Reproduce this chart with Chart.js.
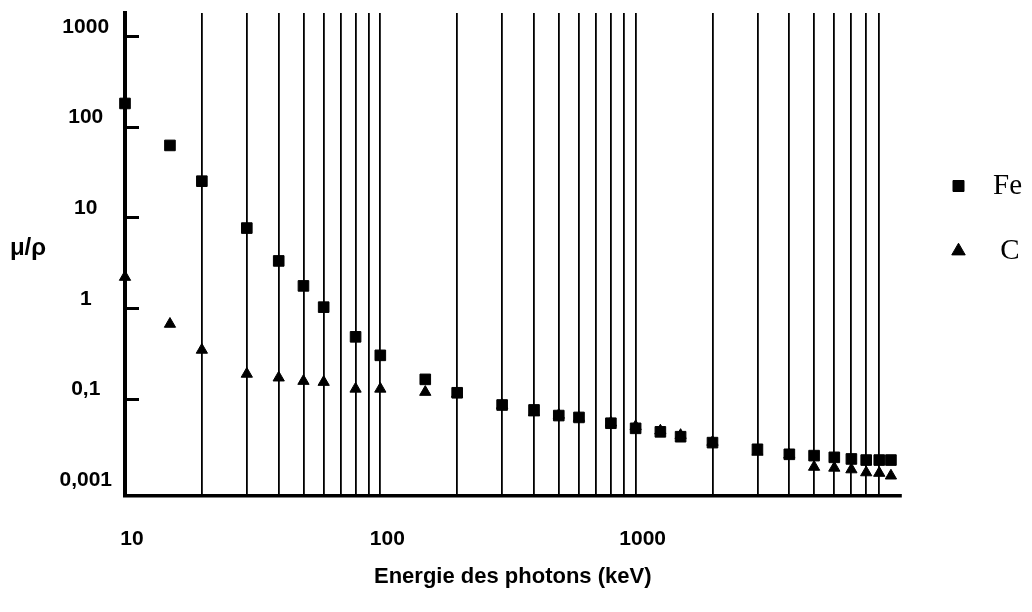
<!DOCTYPE html>
<html>
<head>
<meta charset="utf-8">
<title>μ/ρ - Fe et C</title>
<script src="https://cdn.jsdelivr.net/npm/chart.js@4.4.1/dist/chart.umd.min.js"></script>
<style>
  html, body { margin: 0; padding: 0; background: #fff; }
  #chart { display: block; }
</style>
</head>
<body>
<canvas id="chart" width="1032" height="612"></canvas>
<script>
// Photon energies (keV)
const energies = [10, 15, 20, 30, 40, 50, 60, 80, 100, 150, 200, 300, 400, 500, 600, 800,
                  1000, 1250, 1500, 2000, 3000, 4000, 5000, 6000, 7000, 8000, 9000, 10000];

// mass attenuation
const feValues = [180, 62, 25, 7.6, 3.3, 1.75, 1.02, 0.48, 0.30, 0.163, 0.116, 0.085, 0.075, 0.065,
                  0.062, 0.0535, 0.047, 0.043, 0.038, 0.0327, 0.0276, 0.0243, 0.0235, 0.0225,
                  0.0216, 0.021, 0.021, 0.021];
const cValues = [2.19, 0.665, 0.344, 0.187, 0.170, 0.156, 0.152, 0.128, 0.128, 0.118, 0.113, 0.0845,
                 0.07, 0.066, 0.0612, 0.0541, 0.0494, 0.0442, 0.0395, 0.0332, 0.0258, 0.024,
                 0.0176, 0.0172, 0.0165, 0.0153, 0.0151, 0.0141];

// axes
const xGridValues = [10, 20, 30, 40, 50, 60, 70, 80, 90, 100, 200, 300, 400, 500, 600, 700, 800, 900,
                     1000, 2000, 3000, 4000, 5000, 6000, 7000, 8000, 9000];
const xLabelValues = [10, 100, 1000];
const yTickValues = [0.01, 0.1, 1, 10, 100, 1000];
const yTickLabels = ['0,001', '0,1', '1', '10', '100', '1000'];
const yMarkValues = [0.1, 1, 10, 100, 1000];

const toPoints = (xs, ys) => xs.map((x, i) => ({ x: x, y: ys[i] }));

// short inward ticks on the y axis + horizontal "μ/ρ" label
const axisExtras = {
  id: 'axisExtras',
  afterDatasetsDraw(chart) {
    const ctx = chart.ctx;
    const y = chart.scales.y;
    const area = chart.chartArea;
    ctx.save();
    ctx.strokeStyle = '#000';
    ctx.lineWidth = 3;
    yMarkValues.forEach(v => {
      const py = Math.round(y.getPixelForValue(v)) + 0.5;
      ctx.beginPath();
      ctx.moveTo(area.left, py);
      ctx.lineTo(area.left + 14, py);
      ctx.stroke();
    });
    ctx.fillStyle = '#000';
    ctx.font = 'bold 24px "Liberation Sans", Arial, sans-serif';
    ctx.textAlign = 'center';
    ctx.textBaseline = 'middle';
    ctx.fillText('μ/ρ', 28, (area.top + area.bottom) / 2 - 6);
    ctx.restore();
  }
};

new Chart(document.getElementById('chart'), {
  type: 'scatter',
  data: {
    datasets: [{
      label: 'Fe',
      data: toPoints(energies, feValues),
      pointStyle: 'rect',
      pointRadius: 7.5,
      borderWidth: 1,
      backgroundColor: '#000',
      borderColor: '#000',
      clip: false
    }, {
      label: 'C',
      data: toPoints(energies, cValues),
      pointStyle: 'triangle',
      pointRadius: 6.5,
      borderWidth: 1,
      backgroundColor: '#000',
      borderColor: '#000',
      clip: false
    }]
  },
  options: {
    responsive: false,
    devicePixelRatio: 1,
    animation: false,
    layout: { padding: { top: 13, left: 0, right: 0, bottom: 0 } },
    scales: {
      x: {
        type: 'logarithmic',
        min: 10,
        max: 10900,
        afterBuildTicks: s => { s.ticks = xGridValues.map(v => ({ value: v })); },
        afterFit: s => { s.height = 116; s.paddingLeft = 0; s.paddingRight = 0; },
        grid: { color: '#000', lineWidth: 1.8, drawTicks: false },
        border: { display: true, color: '#000', width: 3.5 },
        ticks: {
          autoSkip: false,
          maxRotation: 0,
          padding: 31,
          labelOffset: 7,
          color: '#000',
          font: { family: '"Liberation Sans", Arial, sans-serif', size: 21, weight: 'bold' },
          callback: v => xLabelValues.includes(v) ? String(v) : ''
        },
        title: {
          display: true,
          text: 'Energie des photons (keV)',
          color: '#000',
          font: { family: '"Liberation Sans", Arial, sans-serif', size: 22, weight: 'bold' },
          padding: { top: 0, bottom: 22 }
        }
      },
      y: {
        type: 'logarithmic',
        min: 0.00843,
        max: 1790,
        afterBuildTicks: s => { s.ticks = yTickValues.map(v => ({ value: v })); },
        afterFit: s => { s.width = 125; s.paddingTop = 0; s.paddingBottom = 0; },
        grid: { display: false, drawTicks: false },
        border: { display: true, color: '#000', width: 4 },
        ticks: {
          crossAlign: 'center',
          padding: 13,
          labelOffset: -9,
          color: '#000',
          font: { family: '"Liberation Sans", Arial, sans-serif', size: 21, weight: 'bold' },
          callback: v => {
            const i = yTickValues.indexOf(v);
            return i >= 0 ? yTickLabels[i] : '';
          }
        }
      },
      gap: {
        type: 'linear',
        position: 'right',
        display: true,
        afterFit: s => { s.width = 16.5; },
        grid: { display: false },
        border: { display: false },
        ticks: { display: false }
      }
    },
    plugins: {
      tooltip: { enabled: false },
      legend: {
        position: 'right',
        align: 'start',
        title: { display: true, text: '', font: { size: 10 }, padding: { top: 110.5, bottom: 0 } },
        labels: {
          usePointStyle: true,
          boxWidth: 11,
          boxHeight: 11,
          padding: 36,
          color: '#000',
          font: { family: '"Liberation Serif", "Times New Roman", serif', size: 29 },
          generateLabels: chart => {
            const items = Chart.defaults.plugins.legend.labels.generateLabels(chart);
            items.forEach(it => { it.text = (it.text === 'C' ? '   ' : '  ') + it.text; });
            return items;
          }
        }
      }
    }
  },
  plugins: [axisExtras]
});
</script>
</body>
</html>
